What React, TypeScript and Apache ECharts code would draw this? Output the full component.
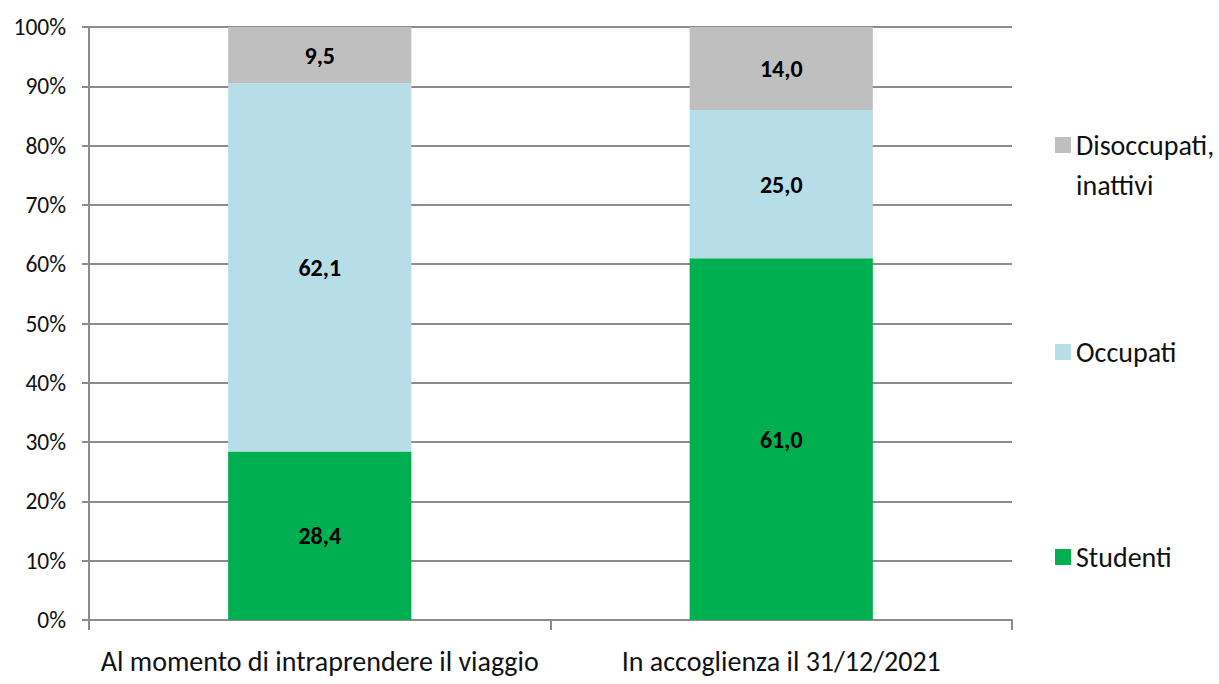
import React, { useEffect, useRef } from "react";
import * as echarts from "echarts";

const categories = ["Al momento di intraprendere il viaggio", "In accoglienza il 31/12/2021"];
const studenti = [28.4, 61.0];
const occupati = [62.1, 25.0];
const disoccupati = [9.5, 14.0];
const seriesNames = ["Studenti", "Occupati", "Disoccupati, inattivi"];
const colors = ["#00B050", "#B7DDE8", "#BFBFBF"];
const yTicks = [0, 10, 20, 30, 40, 50, 60, 70, 80, 90, 100];

const FONT = "Carlito, 'Liberation Sans', sans-serif";

export default function App() {
  const ref = useRef<HTMLDivElement>(null);
  useEffect(() => {
    document.body.style.margin = "0";
    const chart = echarts.init(ref.current!, null, { renderer: "svg" });
    const values = [studenti, occupati, disoccupati];
    const fmt = (v: number) => v.toFixed(1).replace(".", ",");
    const series = values.map((d, i) => ({
      name: seriesNames[i],
      type: "bar",
      stack: "total",
      barWidth: "39.7%",
      data: d,
      itemStyle: { color: colors[i] },
      label: {
        show: true,
        position: "inside",
        formatter: (p: any) => fmt(p.value),
        color: "#000",
        fontWeight: "bold",
        fontSize: 24,
        fontFamily: FONT,
      },
    }));
    // icon centre y positions for Studenti, Occupati, Disoccupati
    const legendY = [552, 347, 140];
    const legends = seriesNames.map((n, i) => {
      const multi = n.includes(", ");
      return {
        data: [n],
        orient: "vertical",
        left: 1050,
        top: multi ? legendY[i] - 60 : legendY[i] - 20,
        itemWidth: 16,
        itemHeight: 16,
        itemGap: 0,
        icon: "rect",
        selectedMode: false,
        formatter: (name: string) =>
          multi
            ? "{e| }\n{a|" + name.replace(", ", ",}\n{a|") + "}"
            : "{a|" + name + "}",
        textStyle: {
          fontFamily: FONT,
          fontSize: 28,
          color: "#111",
          lineHeight: 40,
          rich: {
            e: { fontSize: 10, lineHeight: 40, height: 40 },
            a: { fontFamily: FONT, fontSize: 28, color: "#111", lineHeight: 40 },
          },
        },
      };
    });
    chart.setOption({
      animation: false,
      backgroundColor: "#fff",
      grid: { left: 89, right: 207, top: 27, bottom: 64 },
      legend: legends,
      xAxis: {
        type: "category",
        data: categories,
        axisLine: { lineStyle: { color: "#8c8c8c", width: 2 } },
        axisTick: { show: true, length: 10, lineStyle: { color: "#8c8c8c", width: 2 } },
        axisLabel: { fontFamily: FONT, fontSize: 28, color: "#111", margin: 27, interval: 0 },
      },
      yAxis: {
        type: "value",
        min: yTicks[0],
        max: yTicks[yTicks.length - 1],
        interval: 10,
        axisLine: { show: true, lineStyle: { color: "#8c8c8c", width: 2 } },
        axisTick: { show: true, length: 7, lineStyle: { color: "#8c8c8c", width: 2 } },
        splitLine: { lineStyle: { color: "#8c8c8c", width: 2 } },
        axisLabel: {
          fontFamily: FONT,
          fontSize: 23.5,
          color: "#111",
          margin: 23,
          formatter: (v: number) => v + "%",
        },
      },
      series,
    });
    return () => chart.dispose();
  }, []);
  return <div ref={ref} style={{ width: 1219, height: 684 }} />;
}
